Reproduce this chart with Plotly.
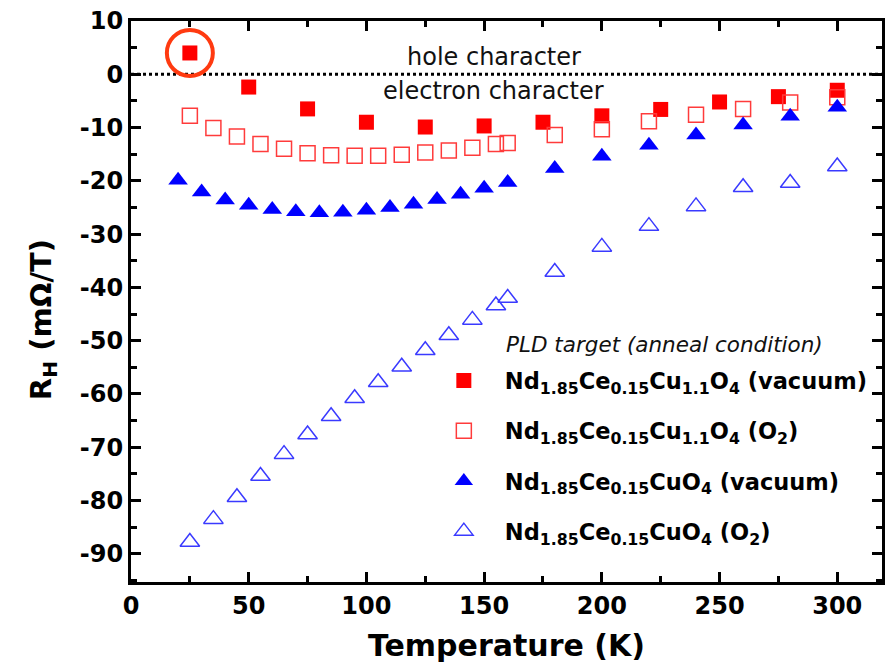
import plotly.graph_objects as go

# ---- data ----
T_cu11_vac = [25, 50, 75, 100, 125, 150, 175, 200, 225, 250, 275, 300]
R_cu11_vac = [4.0, -2.4, -6.5, -9.0, -9.9, -9.7, -9.0, -7.8, -6.6, -5.2, -4.2, -3.0]

T_cu11_o2 = [25, 35, 45, 55, 65, 75, 85, 95, 105, 115, 125, 135, 145, 155, 160,
             180, 200, 220, 240, 260, 280, 300]
R_cu11_o2 = [-7.8, -10.1, -11.7, -13.1, -14.0, -14.8, -15.2, -15.3, -15.3, -15.1, -14.7,
             -14.3, -13.8, -13.1, -12.9, -11.4, -10.3, -8.8, -7.6, -6.5, -5.3, -4.3]

T_cu_vac = [20, 30, 40, 50, 60, 70, 80, 90, 100, 110, 120, 130, 140, 150, 160,
            180, 200, 220, 240, 260, 280, 300]
R_cu_vac = [-19.9, -22.1, -23.6, -24.6, -25.4, -25.8, -26.0, -25.9, -25.5, -25.0, -24.4,
            -23.5, -22.5, -21.4, -20.3, -17.7, -15.4, -13.3, -11.4, -9.5, -7.9, -6.2]

T_cu_o2 = [25, 35, 45, 55, 65, 75, 85, 95, 105, 115, 125, 135, 145, 155, 160,
           180, 200, 220, 240, 260, 280, 300]
R_cu_o2 = [-87.8, -83.5, -79.4, -75.4, -71.3, -67.6, -64.2, -60.8, -57.8, -54.9, -51.8,
           -49.0, -46.1, -43.4, -42.0, -37.1, -32.4, -28.5, -24.8, -21.2, -20.4, -17.3]

names = [
    "<b>Nd<sub>1.85</sub>Ce<sub>0.15</sub>Cu<sub>1.1</sub>O<sub>4</sub> (vacuum)</b>",
    "<b>Nd<sub>1.85</sub>Ce<sub>0.15</sub>Cu<sub>1.1</sub>O<sub>4</sub> (O<sub>2</sub>)</b>",
    "<b>Nd<sub>1.85</sub>Ce<sub>0.15</sub>CuO<sub>4</sub> (vacuum)</b>",
    "<b>Nd<sub>1.85</sub>Ce<sub>0.15</sub>CuO<sub>4</sub> (O<sub>2</sub>)</b>",
]

x_ticks = [0, 50, 100, 150, 200, 250, 300]
x_ticklabels = ["0", "50", "100", "150", "200", "250", "300"]
y_ticks = [10, 0, -10, -20, -30, -40, -50, -60, -70, -80, -90]
y_ticklabels = ["10", "0", "-10", "-20", "-30", "-40", "-50", "-60", "-70", "-80", "-90"]

FONT = "DejaVu Sans"

fig = go.Figure()
fig.add_trace(go.Scatter(x=T_cu11_vac, y=R_cu11_vac, mode="markers", name=names[0],
                         legendgroup="a",
                         marker=dict(symbol="square", size=15, color="#ff0000",
                                     line=dict(width=0))))
fig.add_trace(go.Scatter(x=T_cu11_o2, y=R_cu11_o2, mode="markers", name=names[1],
                         legendgroup="b",
                         marker=dict(symbol="square-open", size=15, color="#ff3b3b",
                                     line=dict(width=1.5, color="#ff3b3b"))))
fig.add_trace(go.Scatter(x=T_cu_vac, y=R_cu_vac, mode="markers", name=names[2],
                         legendgroup="c",
                         marker=dict(symbol="triangle-up", size=17, color="#0000ff",
                                     line=dict(width=0))))
fig.add_trace(go.Scatter(x=T_cu_o2, y=R_cu_o2, mode="markers", name=names[3],
                         legendgroup="d",
                         marker=dict(symbol="triangle-up-open", size=17, color="#3a3aff",
                                     line=dict(width=1.5, color="#3a3aff"))))

# zero line (dotted)
fig.add_shape(type="line", xref="x", yref="y", x0=0, x1=319, y0=0, y1=0,
              line=dict(color="black", width=3, dash="dot"), layer="below")
# highlight circle around first point
fig.add_shape(type="circle", xref="x", yref="y", xsizemode="pixel", ysizemode="pixel",
              xanchor=T_cu11_vac[0], yanchor=R_cu11_vac[0], x0=-23, x1=23, y0=-23, y1=23,
              line=dict(color="#ff3a10", width=4))

fig.add_annotation(x=154, y=3.2, xref="x", yref="y", text="hole character",
                   showarrow=False, font=dict(family=FONT, size=24, color="#111111"))
fig.add_annotation(x=154, y=-3.2, xref="x", yref="y", text="electron character",
                   showarrow=False, font=dict(family=FONT, size=24, color="#111111"))
fig.add_annotation(x=0.497, y=0.4225, xref="paper", yref="paper", xanchor="left",
                   yanchor="middle", text="<i>PLD target (anneal condition)</i>",
                   showarrow=False, font=dict(family=FONT, size=21.5, color="#111111"))

# axis titles
fig.add_annotation(x=0.5, y=-0.114, xref="paper", yref="paper", xanchor="center",
                   yanchor="middle", text="<b>Temperature (K)</b>", showarrow=False,
                   font=dict(family=FONT, size=30, color="black"))
fig.add_annotation(x=-0.117, y=0.467, xref="paper", yref="paper", xanchor="center",
                   yanchor="middle", textangle=-90, text="<b>R<sub>H</sub> (mΩ/T)</b>",
                   showarrow=False, font=dict(family=FONT, size=29, color="black"))

axis_common = dict(
    showline=True, linecolor="black", linewidth=3, mirror="ticks",
    ticks="inside", ticklen=10, tickwidth=3, tickcolor="black",
    showgrid=False, zeroline=False,
    tickfont=dict(family=FONT, size=24, color="black", weight="bold"),
)

fig.update_xaxes(range=[0, 319], tickmode="array", tickvals=x_ticks, ticktext=x_ticklabels,
                 minor=dict(dtick=25, ticks="inside", ticklen=6, tickwidth=3, tickcolor="black"),
                 **axis_common)
fig.update_yaxes(range=[-95.3, 10], tickmode="array", tickvals=y_ticks, ticktext=y_ticklabels,
                 minor=dict(dtick=5, ticks="inside", ticklen=6, tickwidth=3, tickcolor="black"),
                 **axis_common)

fig.update_layout(
    width=891, height=662,
    margin=dict(l=131, r=6, t=21, b=80),
    plot_bgcolor="white", paper_bgcolor="white",
    showlegend=True,
    legend=dict(x=0.3886, y=0.397, xanchor="left", yanchor="top",
                bgcolor="rgba(0,0,0,0)", itemwidth=72, tracegroupgap=18,
                font=dict(family=FONT, size=22.5, color="black")),
)

fig.write_html("out.html")
